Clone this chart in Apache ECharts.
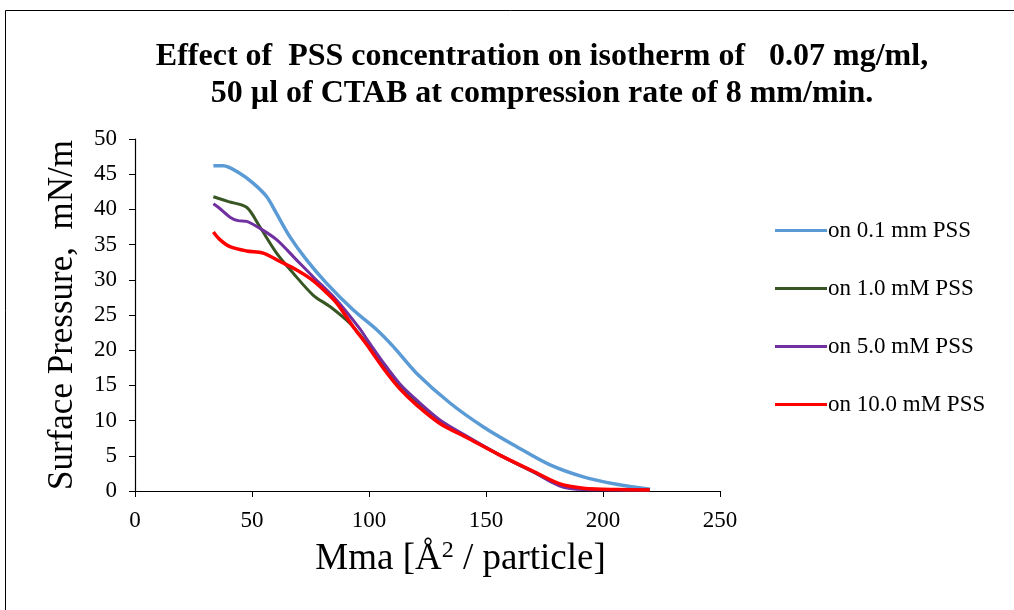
<!DOCTYPE html>
<html>
<head>
<meta charset="utf-8">
<script src="https://cdn.jsdelivr.net/npm/echarts@6/dist/echarts.min.js"></script>
<style>html,body{margin:0;padding:0;background:#fff;}#c{width:1014px;height:610px;}</style>
</head>
<body>
<div id="c"></div>
<script>
const titleLines = ['Effect of  PSS concentration on isotherm of   0.07 mg/ml,', '50 \u00b5l of CTAB at compression rate of 8 mm/min.'];
const seriesNames = ['on 0.1 mm PSS', 'on 1.0 mM PSS', 'on 5.0 mM PSS', 'on 10.0 mM PSS'];
const xTicks = [0, 50, 100, 150, 200, 250];
const yTicks = [0, 5, 10, 15, 20, 25, 30, 35, 40, 45, 50];

const pss01 = [[33.5,46.2],[37.7,46.2],[44.9,45.1],[50.6,43.7],[56.3,41.8],[60.5,39.4],[66.2,36.1],[73.4,32.8],[81.9,29.5],[93.3,25.7],[103.3,22.9],[110.4,20.5],[120.4,16.7],[134.6,12.5],[148.9,9.1],[163.1,6.3],[177.4,3.7],[191.6,2.0],[205.8,0.95],[220.1,0.24]];
const pss1 = [[33.5,41.8],[40,41.1],[47.7,40.3],[53.4,37.5],[60.5,33.8],[67.7,30.9],[76.2,27.8],[83.3,26.2],[91.9,23.8],[99,21.0],[106.2,17.7],[113.2,14.8],[120.4,12.5],[130.3,9.8],[141.7,7.7],[155.9,5.1],[170.2,2.7],[181.6,0.85],[191.6,0.33],[205.8,0.2],[220,0.15]];
const pss5 = [[33.5,40.8],[36,40.2],[40.6,38.9],[44,38.4],[47.7,38.3],[53.4,37.3],[60.5,35.7],[69.1,32.8],[76.2,30.4],[86.2,27.1],[96.2,23.0],[99,21.6],[106.2,18.2],[113.2,15.2],[120.4,12.9],[130.3,10.1],[141.7,7.8],[155.9,5.1],[170.2,2.7],[181.6,0.7],[191.6,0.2],[205.8,0.15],[220,0.15]];
const pss10 = [[33.5,36.8],[36.3,35.7],[40.6,34.7],[47.7,34.1],[54.8,33.8],[62,32.6],[69.1,31.4],[74.8,30.2],[80.5,28.6],[86.2,26.7],[93.3,23.3],[99,20.8],[106.2,17.4],[113.2,14.5],[120.4,12.2],[130.3,9.6],[141.7,7.6],[155.9,5.1],[170.2,2.8],[181.6,1.0],[191.6,0.4],[205.8,0.2],[220,0.15]];

const colors = ['#5B9BD5', '#375623', '#7030A0', '#FF0000'];
const widths = [3.5, 3, 3, 3.5];
const datasets = [pss01, pss1, pss5, pss10];
const serif = '"Liberation Serif", "Times New Roman", serif';

const chart = echarts.init(document.getElementById('c'));
chart.setOption({
  animation: false,
  backgroundColor: '#fff',
  title: {
    text: titleLines.join('\n'),
    left: 537, top: 33, textAlign: 'center',
    textStyle: { fontFamily: serif, fontWeight: 'bold', fontSize: 32, lineHeight: 37, color: '#000' }
  },
  graphic: [{
    type: 'rect', shape: { x: 5.5, y: 10.5, width: 1020, height: 620 },
    style: { fill: 'none', stroke: '#000', lineWidth: 1 }, silent: true
  }],
  legend: {
    orient: 'vertical', left: 770, top: 214, itemGap: 35,
    itemWidth: 52, itemHeight: 3, icon: 'rect',
    textStyle: { fontFamily: serif, fontSize: 23, color: '#000', padding: [0, 0, 0, -4] },
    data: seriesNames
  },
  grid: { left: 135, right: 294, top: 139, bottom: 119 },
  xAxis: {
    type: 'value', min: xTicks[0], max: xTicks[xTicks.length - 1], interval: 50,
    name: 'Mma [\u00c5{s|2} / particle]', nameLocation: 'middle', nameGap: 48,
    nameTextStyle: { fontFamily: serif, fontSize: 37, color: '#000', padding: [0, 0, 0, 66], rich: { s: { fontFamily: serif, fontSize: 24, verticalAlign: 'top', padding: [0, 0, 16, 0], color: '#000' } } },
    axisLine: { show: true, lineStyle: { color: '#000', width: 1.2 } },
    axisTick: { show: true, length: 6, lineStyle: { color: '#000' } },
    axisLabel: { fontFamily: serif, fontSize: 23, color: '#000', margin: 18 },
    splitLine: { show: false }
  },
  yAxis: {
    type: 'value', min: yTicks[0], max: yTicks[yTicks.length - 1], interval: 5,
    name: 'Surface Pressure,  mN/m', nameLocation: 'middle', nameGap: 55,
    nameTextStyle: { fontFamily: serif, fontSize: 35, color: '#000' },
    axisLine: { show: true, lineStyle: { color: '#000', width: 1.2 } },
    axisTick: { show: true, length: 6, lineStyle: { color: '#000' } },
    axisLabel: { fontFamily: serif, fontSize: 23, color: '#000', margin: 18 },
    splitLine: { show: false }
  },
  series: datasets.map((d, i) => ({
    name: seriesNames[i], type: 'line', data: d, smooth: 0.3,
    showSymbol: false, symbol: 'none',
    lineStyle: { color: colors[i], width: widths[i] },
    itemStyle: { color: colors[i] }
  }))
});
</script>
</body>
</html>
